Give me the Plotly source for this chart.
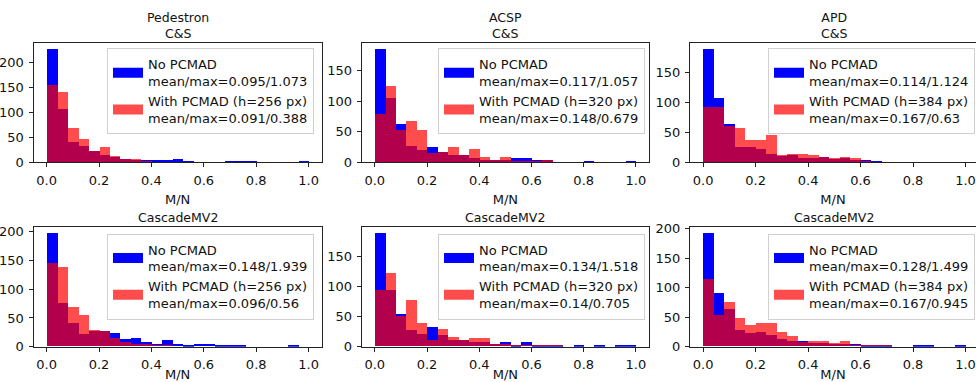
import plotly.graph_objects as go

# ---------------- data ----------------
BIN_LEFT = [0.00, 0.04, 0.08, 0.12, 0.16, 0.20, 0.24, 0.28, 0.32, 0.36,
            0.40, 0.44, 0.48, 0.52, 0.56, 0.60, 0.64, 0.68, 0.72, 0.76,
            0.80, 0.84, 0.88, 0.92, 0.96]
BIN_WIDTH = 0.04

TITLES = ["Pedestron<br>C&S", "ACSP<br>C&S", "APD<br>C&S",
          "CascadeMV2", "CascadeMV2", "CascadeMV2"]
PCMAD_H = [256, 320, 384, 256, 320, 384]
NO_STATS = ["0.095/1.073", "0.117/1.057", "0.114/1.124",
            "0.148/1.939", "0.134/1.518", "0.128/1.499"]
WITH_STATS = ["0.091/0.388", "0.148/0.679", "0.167/0.63",
              "0.096/0.56", "0.14/0.705", "0.167/0.945"]

pedestron_no = [229, 108, 41, 33, 24, 16, 12, 8, 5, 6, 6, 5, 7, 3, 0, 0, 0, 2, 2, 2, 0, 0, 0, 0, 2]
pedestron_with = [156, 142, 70, 47, 23, 32, 13, 8, 7, 3, 0, 0, 0, 0, 0, 0, 0, 0, 0, 0, 0, 0, 0, 0, 0]
acsp_no = [187, 106, 64, 28, 20, 26, 17, 12, 12, 8, 5, 5, 5, 7, 7, 4, 4, 0, 0, 0, 3, 0, 0, 0, 2]
acsp_with = [79, 125, 54, 68, 54, 16, 18, 26, 12, 23, 9, 5, 9, 3, 3, 3, 5, 0, 0, 0, 0, 0, 0, 0, 0]
apd_no = [190, 108, 65, 26, 26, 22, 15, 11, 12, 8, 7, 10, 6, 8, 4, 5, 2, 0, 0, 1, 0, 1, 0, 0, 0]
apd_with = [93, 93, 61, 57, 38, 38, 46, 12, 15, 15, 12, 9, 8, 9, 7, 3, 0, 0, 0, 0, 0, 0, 0, 0, 0]
cmv2_256_no = [198, 76, 40, 22, 27, 26, 23, 13, 15, 8, 5, 11, 5, 3, 4, 5, 3, 2, 2, 0, 0, 0, 0, 3, 0]
cmv2_256_with = [146, 138, 68, 55, 29, 27, 15, 8, 4, 4, 3, 2, 1, 1, 0, 0, 0, 0, 0, 0, 0, 0, 0, 0, 0]
cmv2_320_no = [189, 94, 54, 27, 21, 32, 19, 11, 10, 7, 7, 4, 7, 3, 7, 3, 2, 2, 0, 2, 0, 2, 0, 2, 2]
cmv2_320_with = [94, 122, 50, 77, 39, 11, 29, 16, 10, 14, 14, 4, 4, 3, 2, 3, 3, 2, 0, 0, 0, 0, 0, 0, 0]
cmv2_384_no = [193, 91, 63, 27, 22, 24, 20, 13, 10, 9, 6, 6, 4, 4, 4, 3, 3, 2, 0, 0, 1, 1, 0, 0, 1]
cmv2_384_with = [115, 54, 75, 48, 37, 39, 39, 24, 17, 7, 10, 9, 6, 10, 2, 3, 2, 2, 1, 0, 0, 0, 0, 1, 0]

NO_SERIES = [pedestron_no, acsp_no, apd_no, cmv2_256_no, cmv2_320_no, cmv2_384_no]
WITH_SERIES = [pedestron_with, acsp_with, apd_with, cmv2_256_with, cmv2_320_with, cmv2_384_with]

# ---------------- layout geometry ----------------
W, H = 976, 382
X_DOMAINS = [(33.5 / W, 321.7 / W), (361.7 / W, 649.0 / W), (690.0 / W, 1.0)]
X_RANGES = [[-0.05, 1.05], [-0.05, 1.05], [-0.05, 1.04]]
TITLE_X = [177.6 / W, 505.4 / W, 834.0 / W]
TITLE_Y = [1 - 25.0 / H, 1 - 217.3 / H]
Y_DOMAINS = [(1 - 162.3 / H, 1 - 42.7 / H), (1 - 346.7 / H, 1 - 227.3 / H)]
LEGEND_RIGHT = [314 / W, 645 / W, 975 / W]
LEGEND_TOP = [1 - 48.3 / H, 1 - 233.5 / H]

FONT = "DejaVu Sans"
BLUE = "rgb(0,0,255)"
RED = "rgba(255,0,0,0.7)"
TXT = "#111"

centers = [l + BIN_WIDTH / 2 for l in BIN_LEFT]

fig = go.Figure()
layout = dict(
    width=W, height=H,
    margin=dict(l=0, r=0, t=0, b=0, autoexpand=False),
    paper_bgcolor="white", plot_bgcolor="white",
    barmode="overlay", bargap=0,
    font=dict(family=FONT, size=13, color=TXT),
    annotations=[],
)

for i in range(6):
    row, col = divmod(i, 3)
    n = i + 1
    xa = "x" if n == 1 else f"x{n}"
    ya = "y" if n == 1 else f"y{n}"
    leg = "legend" if n == 1 else f"legend{n}"

    fig.add_trace(go.Bar(
        x=centers, y=NO_SERIES[i], width=BIN_WIDTH,
        marker=dict(color=BLUE, line=dict(width=0)),
        name="No PCMAD", showlegend=False,
        xaxis=xa, yaxis=ya,
    ))
    fig.add_trace(go.Bar(
        x=centers, y=WITH_SERIES[i], width=BIN_WIDTH,
        marker=dict(color=RED, line=dict(width=0)),
        name=f"With PCMAD (h={PCMAD_H[i]} px)", showlegend=False,
        xaxis=xa, yaxis=ya,
    ))
    # legend entries (patch-like wide swatches)
    fig.add_trace(go.Scatter(
        x=[None], y=[None], mode="lines", line=dict(color=BLUE, width=10),
        name=f"No PCMAD<br>mean/max={NO_STATS[i]}",
        xaxis=xa, yaxis=ya, legend=leg, hoverinfo="skip",
    ))
    fig.add_trace(go.Scatter(
        x=[None], y=[None], mode="lines", line=dict(color=RED, width=10),
        name=f"With PCMAD (h={PCMAD_H[i]} px)<br>mean/max={WITH_STATS[i]}",
        xaxis=xa, yaxis=ya, legend=leg, hoverinfo="skip",
    ))

    ymax = 1.05 * max(max(NO_SERIES[i]), max(WITH_SERIES[i]))
    axis_common = dict(showline=True, mirror=True, linecolor="#222", linewidth=1,
                       ticks="outside", ticklen=4, tickcolor="#222",
                       showgrid=False, zeroline=False, automargin=False,
                       ticklabelstandoff=2, ticklabeloverflow="allow",
                       tickfont=dict(size=13, family=FONT, color=TXT))
    layout["xaxis" if n == 1 else f"xaxis{n}"] = dict(
        domain=list(X_DOMAINS[col]), range=X_RANGES[col], anchor=ya,
        tickvals=[0, 0.2, 0.4, 0.6, 0.8, 1.0], tickformat=".1f",
        title=dict(text="M/N", font=dict(size=13, family=FONT, color=TXT), standoff=7),
        **axis_common)
    layout["yaxis" if n == 1 else f"yaxis{n}"] = dict(
        domain=list(Y_DOMAINS[row]), range=[0, ymax], anchor=xa,
        dtick=50, **axis_common)
    layout[leg] = dict(
        x=LEGEND_RIGHT[col], y=LEGEND_TOP[row], xanchor="right", yanchor="top",
        bgcolor="rgba(255,255,255,0.8)", bordercolor="#d0d0d0", borderwidth=1,
        font=dict(size=13, family=FONT, color=TXT),
    )
    layout["annotations"].append(dict(
        text=TITLES[i], xref="paper", yref="paper",
        x=TITLE_X[col], y=TITLE_Y[row], xanchor="center", yanchor="middle",
        showarrow=False, font=dict(size=12.5, family=FONT, color=TXT),
    ))

fig.update_layout(**layout)
fig.write_html(
    "out.html",
    config={"displayModeBar": False},
    post_script="document.body.style.margin='0';document.body.style.overflow='hidden';"
                "document.documentElement.style.overflow='hidden';",
)
